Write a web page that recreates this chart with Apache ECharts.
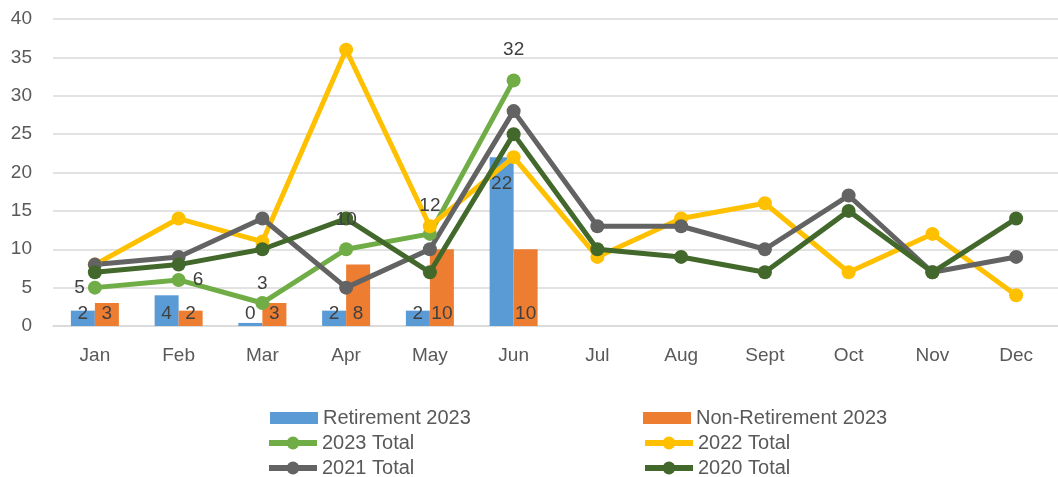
<!DOCTYPE html>
<html>
<head>
<meta charset="utf-8">
<script src="https://cdn.jsdelivr.net/npm/echarts@6/dist/echarts.min.js"></script>
<style>
  * { margin: 0; padding: 0; }
  html, body { width: 1058px; height: 477px; background: #fff; }
  #chart { width: 1058px; height: 477px; }
</style>
</head>
<body>
<div id="chart"></div>
<script>
  // 月份
  var months = ['Jan', 'Feb', 'Mar', 'Apr', 'May', 'Jun', 'Jul', 'Aug', 'Sept', 'Oct', 'Nov', 'Dec'];
  var yTicks = [0, 5, 10, 15, 20, 25, 30, 35, 40];
  // 2023 柱状数据
  var retirement2023 = [2, 4, 0.4, 2, 2, 22];
  var nonRetirement2023 = [3, 2, 3, 8, 10, 10];
  // 每年合计
  var total2023 = [5, 6, 3, 10, 12, 32];
  var total2022 = [8, 14, 11, 36, 13, 22, 9, 14, 16, 7, 12, 4];
  var total2021 = [8, 9, 14, 5, 10, 28, 13, 13, 10, 17, 7, 9];
  var total2020 = [7, 8, 10, 14, 7, 25, 10, 9, 7, 15, 7, 14];
  // 图例 (每行两项)
  var legendRows = [
    ['Retirement 2023', 'Non-Retirement 2023'],
    ['2023 Total', '2022 Total'],
    ['2021 Total', '2020 Total']
  ];

  var font = 'Liberation Sans';
  var labelColor = '#404040';
  var barIcon = 'path://M0,0 H48 V12 H0 Z';   // 柱状图例用扁矩形

  // 2023 Total 的标签位置各不相同
  var total2023Pos = [
    { position: 'left', distance: 3 },
    { position: 'right', distance: 7 },
    { position: 'top', distance: 3 },
    { position: 'top', distance: 13 },
    { position: 'top', distance: 12 },
    { position: 'top', distance: 14 }
  ];

  function barLabel() {
    return {
      show: true,
      position: 'insideBottom',
      distance: 3,
      color: labelColor,
      fontSize: 19,
      fontFamily: font,
      formatter: function (p) { return Math.round(p.value); }
    };
  }

  function lineSeries(name, color, data) {
    return {
      name: name,
      type: 'line',
      symbol: 'circle',
      symbolSize: 14,
      lineStyle: { width: 5, color: color },
      itemStyle: { color: color },
      data: data
    };
  }

  var myChart = echarts.init(document.getElementById('chart'));
  var option = {
    animation: false,
    backgroundColor: '#fff',
    grid: { left: 53, right: -12, top: 19, bottom: 151, containLabel: false },
    legend: legendRows.map(function (row, r) {
      return {
        orient: 'horizontal',
        left: r === 0 ? 270 : 266,
        top: 407 + r * 25,
        padding: 0,
        itemWidth: 48,
        itemHeight: 16,
        itemGap: 10,
        lineStyle: { width: 6 },
        textStyle: { color: '#595959', fontSize: 20, fontFamily: font, width: 310, lineHeight: 22 },
        data: row.map(function (n) {
          return r === 0 ? { name: n, icon: barIcon } : n;
        })
      };
    }),
    xAxis: {
      type: 'category',
      data: months,
      axisLine: { lineStyle: { color: '#D9D9D9', width: 1.5 } },
      axisTick: { show: false },
      axisLabel: { color: '#595959', fontSize: 19, fontFamily: font, margin: 20 }
    },
    yAxis: {
      type: 'value',
      min: yTicks[0],
      max: yTicks[yTicks.length - 1],
      interval: 5,
      axisLine: { show: false },
      axisTick: { show: false },
      axisLabel: { color: '#595959', fontSize: 19, fontFamily: font, margin: 21 },
      splitLine: { lineStyle: { color: '#D9D9D9', width: 1.5 } }
    },
    series: [
      {
        name: 'Retirement 2023',
        type: 'bar',
        barWidth: 24,
        barGap: '0%',
        itemStyle: { color: '#5B9BD5' },
        label: barLabel(),
        data: retirement2023.map(function (v, i) {
          if (i === 5) {
            return { value: v, label: { position: 'insideTop', distance: 17 } };
          }
          return v;
        })
      },
      {
        name: 'Non-Retirement 2023',
        type: 'bar',
        barWidth: 24,
        barGap: '0%',
        itemStyle: { color: '#ED7D31' },
        label: barLabel(),
        data: nonRetirement2023
      },
      (function () {
        var s = lineSeries('2023 Total', '#70AD47', total2023.map(function (v, i) {
          return { value: v, label: total2023Pos[i] };
        }));
        s.label = { show: true, color: labelColor, fontSize: 19, fontFamily: font };
        return s;
      })(),
      lineSeries('2022 Total', '#FFC000', total2022),
      lineSeries('2021 Total', '#636363', total2021),
      lineSeries('2020 Total', '#43682B', total2020)
    ]
  };
  myChart.setOption(option);
</script>
</body>
</html>
